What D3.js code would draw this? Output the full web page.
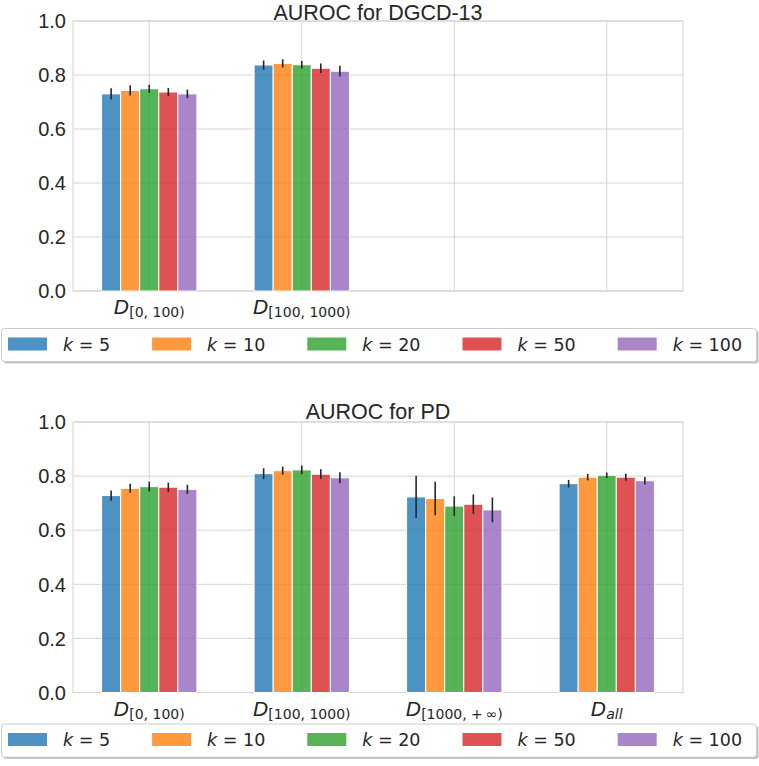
<!DOCTYPE html>
<html>
<head>
<meta charset="utf-8">
<script src="https://cdn.jsdelivr.net/npm/d3@7"></script>
<style>
  html, body { margin: 0; padding: 0; background: #ffffff; }
  svg { display: block; }
</style>
</head>
<body>
<svg id="chart" width="759" height="766"></svg>
<script>
// ---------------- DATA ----------------
const seriesNames = ["5", "10", "20", "50", "100"];
const seriesColors = ["#1f77b4", "#ff7f0e", "#2ca02c", "#d62728", "#9467bd"];
const yTicks = [0.0, 0.2, 0.4, 0.6, 0.8, 1.0];

// x-tick subscripts (D_{...}); empty = no label
const topTickSubs = ["[0, 100)", "[100, 1000)", "", ""];
const bottomTickSubs = ["[0, 100)", "[100, 1000)", "[1000, +\u2009\u221E)", "all"];

// Top: AUROC for DGCD-13 (only first two groups)
const topTitle = "AUROC for DGCD-13";
const topValues = [
  [0.730, 0.837],
  [0.743, 0.843],
  [0.749, 0.838],
  [0.737, 0.825],
  [0.730, 0.814]
];
const topErrors = [
  [0.021, 0.017],
  [0.019, 0.015],
  [0.015, 0.014],
  [0.015, 0.018],
  [0.016, 0.020]
];

// Bottom: AUROC for PD
const bottomTitle = "AUROC for PD";
const bottomValues = [
  [0.728, 0.809, 0.723, 0.772],
  [0.755, 0.820, 0.717, 0.796],
  [0.761, 0.823, 0.689, 0.803],
  [0.759, 0.807, 0.696, 0.796],
  [0.751, 0.794, 0.675, 0.783]
];
const bottomErrors = [
  [0.019, 0.020, 0.078, 0.014],
  [0.017, 0.015, 0.062, 0.012],
  [0.018, 0.016, 0.036, 0.010],
  [0.017, 0.018, 0.036, 0.013],
  [0.017, 0.020, 0.046, 0.014]
];

// ---------------- LAYOUT ----------------
const svg = d3.select("#chart");
const textColor = "#262626";
const gridColor = "#d4d4d4";
const plotLeft = 73, plotRight = 683;
const barW = 0.125;
const nSlots = 4;

function drawPanel(opts) {
  const { top, bottom, title, values, errors, tickSubs, legendTop } = opts;
  const g = svg.append("g");
  const x = d3.scaleLinear().domain([-0.5, nSlots - 0.5]).range([plotLeft, plotRight]);
  const y = d3.scaleLinear().domain([0, 1]).range([bottom, top]);

  // horizontal grid
  g.append("g").selectAll("line").data(yTicks).join("line")
    .attr("x1", plotLeft).attr("x2", plotRight)
    .attr("y1", d => y(d)).attr("y2", d => y(d))
    .attr("stroke", gridColor).attr("stroke-width", 1);
  // vertical grid
  g.append("g").selectAll("line").data(d3.range(nSlots)).join("line")
    .attr("x1", d => x(d)).attr("x2", d => x(d))
    .attr("y1", top).attr("y2", bottom)
    .attr("stroke", gridColor).attr("stroke-width", 1);
  // frame
  g.append("rect").attr("x", plotLeft).attr("y", top)
    .attr("width", plotRight - plotLeft).attr("height", bottom - top)
    .attr("fill", "none").attr("stroke", gridColor).attr("stroke-width", 1);

  // bars
  values.forEach((vals, si) => {
    const off = (si - 2) * barW;
    g.append("g").selectAll("rect").data(vals).join("rect")
      .attr("x", (d, i) => x(i + off - barW / 2))
      .attr("width", x(barW) - x(0))
      .attr("y", d => y(d))
      .attr("height", d => y(0) - y(d))
      .attr("fill", seriesColors[si]).attr("fill-opacity", 0.8)
      .attr("stroke", "#ffffff").attr("stroke-width", 1);
  });
  // error bars
  values.forEach((vals, si) => {
    const off = (si - 2) * barW;
    g.append("g").selectAll("line").data(vals).join("line")
      .attr("x1", (d, i) => x(i + off)).attr("x2", (d, i) => x(i + off))
      .attr("y1", (d, i) => y(d - errors[si][i]))
      .attr("y2", (d, i) => y(d + errors[si][i]))
      .attr("stroke", "#262626").attr("stroke-width", 1.6);
  });

  // y tick labels
  g.append("g").selectAll("text").data(yTicks).join("text")
    .attr("x", plotLeft - 7).attr("y", d => y(d)).attr("dy", "0.36em")
    .attr("text-anchor", "end")
    .attr("font-family", "Liberation Sans, Arial, sans-serif")
    .attr("font-size", 20).attr("fill", textColor)
    .text(d => d.toFixed(1));

  // x tick labels (math style)
  tickSubs.forEach((sub, i) => {
    if (!sub) return;
    const t = g.append("text")
      .attr("x", x(i)).attr("y", bottom + 23)
      .attr("text-anchor", "middle")
      .attr("font-family", "DejaVu Sans, sans-serif")
      .attr("fill", textColor);
    t.append("tspan").attr("font-size", 20).attr("font-style", "italic").text("D");
    t.append("tspan").attr("font-size", 14).attr("dy", 3)
      .attr("font-style", sub === "all" ? "italic" : "normal")
      .text(sub);
  });

  // title
  g.append("text").attr("x", (plotLeft + plotRight) / 2).attr("y", Math.max(top - 3, 19.5))
    .attr("text-anchor", "middle")
    .attr("font-family", "Liberation Sans, Arial, sans-serif")
    .attr("font-size", 21.5).attr("fill", textColor)
    .text(title);

  // legend
  const lg = svg.append("g");
  const boxX = 1.5, boxW = 755, boxH = 33;
  lg.append("rect").attr("x", boxX + 2).attr("y", legendTop + 2)
    .attr("width", boxW).attr("height", boxH).attr("rx", 3)
    .attr("fill", "#9a9a9a").attr("fill-opacity", 0.6);
  lg.append("rect").attr("x", boxX).attr("y", legendTop)
    .attr("width", boxW).attr("height", boxH).attr("rx", 3)
    .attr("fill", "#ffffff").attr("stroke", "#cccccc").attr("stroke-width", 1);
  let cx = 8;
  seriesNames.forEach((name, si) => {
    lg.append("rect").attr("x", cx).attr("y", legendTop + 9)
      .attr("width", 39).attr("height", 13)
      .attr("fill", seriesColors[si]).attr("fill-opacity", 0.8);
    const t = lg.append("text").attr("x", cx + 55).attr("y", legendTop + 22)
      .attr("font-family", "DejaVu Sans, sans-serif")
      .attr("font-size", 17.5).attr("fill", textColor);
    t.append("tspan").attr("font-style", "italic").text("k");
    t.append("tspan").text(" = " + name);
    const w = t.node().getComputedTextLength();
    cx = cx + 55 + w + 42;
  });
}

drawPanel({
  top: 21, bottom: 291, title: topTitle, values: topValues, errors: topErrors,
  tickSubs: topTickSubs, legendTop: 328.5
});
drawPanel({
  top: 422, bottom: 692.5, title: bottomTitle, values: bottomValues, errors: bottomErrors,
  tickSubs: bottomTickSubs, legendTop: 724
});
</script>
</body>
</html>
